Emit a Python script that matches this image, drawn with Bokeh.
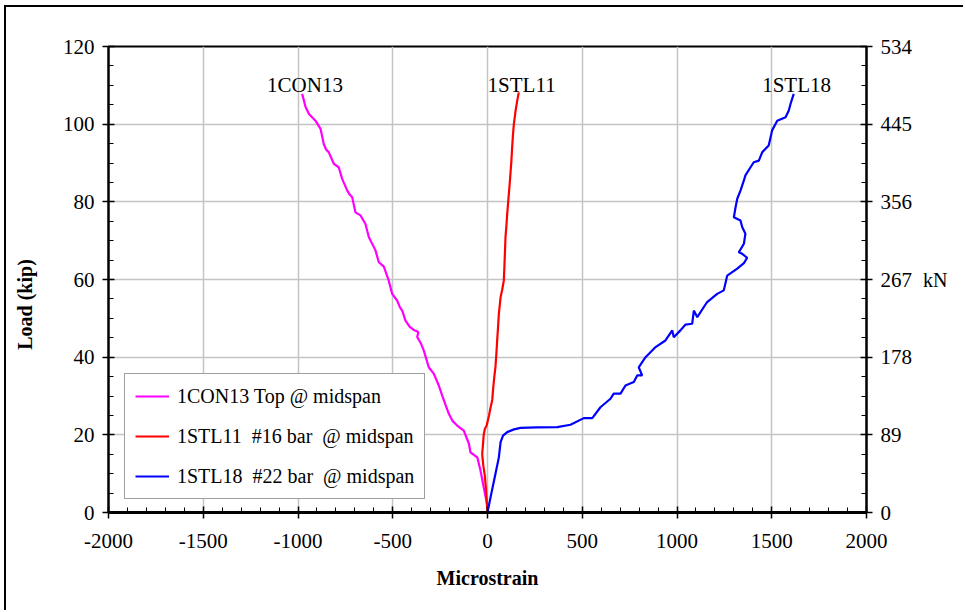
from bokeh.plotting import figure
from bokeh.models import (SingleIntervalTicker, LinearAxis, Range1d, Legend, LegendItem)
from bokeh.core.properties import value
from bokeh.embed import file_html
from bokeh.resources import INLINE

# ---------------- data (microstrain, load in kip) ----------------
con13_strain = [0, -2, -20, -37, -54, -90, -98, -125, -160, -185, -204, -222, -239, -257, -283,
                -310, -336, -352, -371, -365, -389, -410, -433, -450, -462, -477, -503, -521,
                -547, -574, -591, -626, -644, -670, -697, -714, -726, -740, -767, -785, -811,
                -838, -852, -864, -881, -908, -943, -960, -978]
con13_load = [0, 2.2, 6.5, 10.8, 14.2, 15.5, 17.7, 21.1, 22.4, 23.6, 25.4, 27.8, 30.1, 32.7, 35.7,
              37.4, 41.7, 43.6, 45.2, 46.5, 47.0, 47.8, 49.4, 52.0, 52.8, 54.6, 56.3, 59.7,
              63.3, 64.5, 67.5, 70.9, 74.3, 76.5, 77.3, 81.2, 81.8, 82.9, 85.9, 88.9, 89.8,
              92.8, 93.5, 94.9, 98.8, 100.9, 102.7, 104.4, 107.8]

stl11_strain = [0, -3, -8, -14, -22, -28, -24, -20, -14, -4, 8, 16, 25, 30, 36, 42, 47, 51, 56,
                60, 65, 69, 78, 86, 89, 92, 95, 100, 104, 110, 116, 121, 126, 130, 134, 139,
                144, 148, 156, 165]
stl11_load = [0, 2, 6, 9.5, 12, 15, 17.5, 20, 21.5, 22.5, 25, 27, 29, 32, 35, 37.5, 41, 44.3, 48,
              51.2, 53.5, 55.4, 57.5, 59.7, 63, 67, 70.9, 74, 76.9, 80.5, 84, 87.2, 90.5, 94,
              97, 100, 101.8, 103.4, 105.8, 108.2]

stl18_strain = [0, 16, 42, 60, 69, 82, 104, 140, 174, 260, 368, 438, 508, 553, 596, 649, 666,
                702, 728, 772, 790, 816, 798, 834, 887, 939, 975, 983, 1018, 1045, 1080, 1089,
                1107, 1159, 1212, 1247, 1265, 1318, 1353, 1370, 1344, 1326, 1353, 1361, 1344,
                1335, 1300, 1309, 1318, 1335, 1353, 1361, 1388, 1405, 1432, 1450, 1484, 1502,
                1529, 1573, 1590, 1599, 1616]
stl18_load = [0, 3.9, 10.0, 14.2, 18.1, 19.8, 20.7, 21.4, 21.8, 21.9, 22.0, 22.6, 24.3, 24.3,
              27.1, 29.3, 30.6, 30.6, 32.7, 33.6, 35.3, 35.3, 37.4, 40.0, 42.6, 44.3, 46.9,
              45.1, 46.9, 48.4, 48.6, 52.0, 50.3, 54.2, 56.3, 57.2, 61.0, 62.8, 64.2, 65.6,
              66.6, 67.0, 69.2, 71.8, 73.5, 75.2, 76.0, 78.6, 80.8, 82.9, 85.5, 86.8, 88.9,
              90.2, 90.6, 92.8, 94.5, 98.4, 100.9, 101.8, 103.5, 105.2, 107.8]

series_names = ["1CON13", "1STL11", "1STL18"]
legend_labels = ["1CON13 Top @ midspan",
                 "1STL11\u00a0 #16 bar\u00a0 @ midspan",
                 "1STL18\u00a0 #22 bar\u00a0 @ midspan"]
series_colors = ["#FF00FF", "#FF0000", "#0000FF"]

x_ticks = [-2000, -1500, -1000, -500, 0, 500, 1000, 1500, 2000]
x_labels = ["-2000", "-1500", "-1000", "-500", "0", "500", "1000", "1500", "2000"]
y_ticks = [0, 20, 40, 60, 80, 100, 120]
kn_labels = ["0", "89", "178", "267", "356", "445", "534"]

SERIF = "Liberation Serif"

p = figure(width=959, height=605, output_backend="svg", toolbar_location=None,
           x_range=Range1d(-2000, 2000), y_range=Range1d(0, 120),
           min_border_left=102, min_border_right=99, min_border_top=39, min_border_bottom=100,
           background_fill_color="white", border_fill_color="white")

# outer picture frame (left and top edges visible in the reference)
p.styles = {"margin-left": "4px", "margin-top": "5px",
            "border-left": "2px solid black", "border-top": "2px solid black"}

p.outline_line_color = "black"
p.outline_line_width = 2

xt = SingleIntervalTicker(interval=500, num_minor_ticks=5)
yt = SingleIntervalTicker(interval=20, num_minor_ticks=4)

p.xaxis.ticker = xt
p.yaxis.ticker = yt
p.xgrid.ticker = xt
p.ygrid.ticker = yt
for g in (p.xgrid, p.ygrid):
    g.grid_line_color = "#c4c4c4"
    g.grid_line_width = 1.5

def style_axis(ax, lw=2):
    ax.axis_line_color = "black"
    ax.axis_line_width = lw
    ax.major_tick_line_color = "black"
    ax.major_tick_line_width = 1.5
    ax.minor_tick_line_color = "black"
    ax.minor_tick_line_width = 1
    ax.major_tick_in = 6
    ax.major_tick_out = 6
    ax.minor_tick_in = 5
    ax.minor_tick_out = 0
    ax.major_label_text_font = SERIF
    ax.major_label_text_font_size = "21px"
    ax.major_label_text_color = "black"
    ax.axis_label_text_font = SERIF
    ax.axis_label_text_font_size = "20px"
    ax.axis_label_text_font_style = "bold"
    ax.axis_label_text_color = "black"

xa = p.xaxis[0]
style_axis(xa, lw=3)
xa.axis_label = "Microstrain"
xa.major_label_overrides = {t: lab for t, lab in zip(x_ticks, x_labels)}
xa.major_label_standoff = 15
xa.axis_label_standoff = 16

ya = p.yaxis[0]
style_axis(ya)
# trailing no-break spaces push the title a little below the frame centre, as in the original
ya.axis_label = "Load (kip)" + "\u00a0" * 10
ya.major_label_standoff = 8
ya.axis_label_standoff = 24

ra = LinearAxis(ticker=yt)
style_axis(ra)
ra.major_label_overrides = {t: lab for t, lab in zip(y_ticks, kn_labels)}
ra.axis_label = "kN"
ra.axis_label_orientation = "horizontal"
ra.axis_label_text_font_style = "normal"
ra.major_label_standoff = 8
ra.axis_label_standoff = 8
p.add_layout(ra, "right")

strains = [con13_strain, stl11_strain, stl18_strain]
loads = [con13_load, stl11_load, stl18_load]
renderers = []
for xs, ys, c in zip(strains, loads, series_colors):
    r = p.line(xs, ys, line_color=c, line_width=2.2)
    renderers.append(r)

# series name labels above curve ends
label_x = [xs[-1] + 15 for xs in strains]
label_y = [110.2] * 3
p.text(x=label_x, y=label_y, text=series_names, text_font=value(SERIF),
       text_font_size="21px", text_align="center", text_baseline="middle",
       text_color="black")

legend = Legend(items=[LegendItem(label=lab, renderers=[r]) for lab, r in zip(legend_labels, renderers)],
                location=(16, 13))
legend.label_text_font = SERIF
legend.label_text_font_size = "20px"
legend.label_text_color = "black"
legend.padding = 10
legend.spacing = 16
legend.margin = 0
legend.label_height = 24
legend.glyph_height = 24
legend.glyph_width = 34
legend.label_standoff = 8
legend.border_line_color = "#404040"
legend.border_line_width = 1.5
legend.background_fill_color = "white"
legend.background_fill_alpha = 1
p.add_layout(legend, "center")

open("out.html", "w").write(file_html(p, INLINE))
